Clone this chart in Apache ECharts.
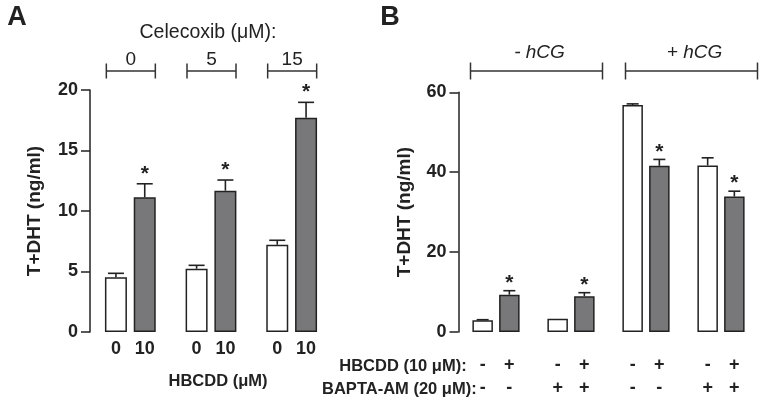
<!DOCTYPE html>
<html><head><meta charset="utf-8">
<script src="https://cdn.jsdelivr.net/npm/echarts@6/dist/echarts.min.js"></script>
<style>html,body{margin:0;padding:0;background:#fff}#c{width:764px;height:406px}</style>
</head><body><div id="c"></div>
<script>
// ---------- Panel A data ----------
const celecoxibLevels = ['0', '5', '15'];
const hbcddLabelsA = ['0', '10'];
const ctrlMeanA = [4.52, 5.23, 7.21];
const ctrlErrA = [0.33, 0.28, 0.37];
const hbcddMeanA = [11.13, 11.68, 17.71];
const hbcddErrA = [1.12, 0.88, 1.27];
const starCtrlA = [0, 0, 0];
const starHbcddA = [1, 1, 1];
const yTicksA = [0, 5, 10, 15, 20];

// ---------- Panel B data ----------
const hcgGroups = ['- hCG', '+ hCG'];
const conditionsB = ['-hCG -BAPTA', '-hCG +BAPTA', '+hCG -BAPTA', '+hCG +BAPTA'];
const baptaSigns = ['-', '+', '-', '+'];
const hbcddSigns = ['-', '+'];
const ctrlMeanB = [2.93, 3.33, 56.8, 41.7];
const ctrlErrB = [0.15, 0, 0.3, 1.9];
const hbcddMeanB = [9.34, 8.94, 41.6, 33.9];
const hbcddErrB = [1.0, 0.9, 1.6, 1.35];
const starCtrlB = [0, 0, 0, 0];
const starHbcddB = [1, 1, 1, 1];
const yTicksB = [0, 20, 40, 60];

const FONT = "'Liberation Sans', Arial, Helvetica, sans-serif";
const INK = '#222';
const GRAY = '#78787a';

const BW_A = 22, GAP_A = 6.8;
const BW_B = 20.5, GAP_B = 6.2;

function errSeries(gi, means, errs, stars, side, bw, gap, starOff, capW) {
  return {
    type: 'custom', xAxisIndex: gi, yAxisIndex: gi, z: 5,
    data: means.map((m, i) => [i, m, errs[i], stars[i]]),
    renderItem(params, api) {
      const c = api.value(0), m = api.value(1), e = api.value(2), s = api.value(3);
      const base = api.coord([c, m]);
      const top = api.coord([c, m + e]);
      const x = base[0] + side * (bw + gap) / 2;
      const children = [];
      if (e > 0) {
        children.push({ type: 'line', shape: { x1: x, y1: base[1], x2: x, y2: top[1] }, style: { stroke: INK, lineWidth: 1.6 } });
        children.push({ type: 'line', shape: { x1: x - capW / 2, y1: top[1], x2: x + capW / 2, y2: top[1] }, style: { stroke: INK, lineWidth: 1.6 } });
      }
      if (s) {
        children.push({ type: 'text', style: { text: '*', x: x, y: top[1] - starOff, align: 'center', verticalAlign: 'middle', textAlign: 'center', textVerticalAlign: 'middle', fontSize: 21, fontWeight: 'bold', fontFamily: FONT, fill: INK } });
      }
      return { type: 'group', children };
    }
  };
}

const yAxisBase = (gi, max, interval, gap) => ({
  gridIndex: gi, type: 'value', min: 0, max: max, interval: interval,
  axisLine: { show: true, lineStyle: { color: INK, width: 1.5 } },
  axisTick: { show: true, length: 9, lineStyle: { color: INK, width: 1.5 } },
  axisLabel: { fontSize: 18, fontWeight: 'bold', color: INK, margin: 12, fontFamily: FONT },
  splitLine: { show: false },
  name: 'T+DHT (ng/ml)', nameLocation: 'middle', nameGap: gap,
  nameTextStyle: { fontSize: 19, fontWeight: 'bold', color: INK, fontFamily: FONT }
});

const xAxisBase = (gi, data) => ({
  gridIndex: gi, type: 'category', data: data,
  axisLine: { show: false }, axisTick: { show: false }, axisLabel: { show: false }
});

const barLabel = (fmt, dist, lh) => ({
  show: true, position: 'bottom', distance: dist, formatter: fmt,
  fontSize: 18, fontWeight: 'bold', color: INK, fontFamily: FONT, lineHeight: lh, align: 'center'
});

const option = {
  animation: false,
  backgroundColor: '#fff',
  grid: [
    { left: 90, top: 90, width: 242, height: 242 },
    { left: 458.5, top: 92.3, width: 300, height: 239.7 }
  ],
  xAxis: [xAxisBase(0, celecoxibLevels), xAxisBase(1, conditionsB)],
  yAxis: [yAxisBase(0, yTicksA[yTicksA.length - 1], yTicksA[1] - yTicksA[0], 46),
          yAxisBase(1, yTicksB[yTicksB.length - 1], yTicksB[1] - yTicksB[0], 44)],
  series: [
    { type: 'bar', xAxisIndex: 0, yAxisIndex: 0, data: ctrlMeanA, barWidth: BW_A, barGap: (GAP_A / BW_A * 100) + '%',
      itemStyle: { color: '#fff', borderColor: INK, borderWidth: 1.5 },
      label: barLabel(() => hbcddLabelsA[0], 7, 20) },
    { type: 'bar', xAxisIndex: 0, yAxisIndex: 0, data: hbcddMeanA, barWidth: BW_A, barGap: (GAP_A / BW_A * 100) + '%',
      itemStyle: { color: GRAY, borderColor: INK, borderWidth: 1.5 },
      label: barLabel(() => hbcddLabelsA[1], 7, 20) },
    { type: 'bar', xAxisIndex: 1, yAxisIndex: 1, data: ctrlMeanB, barWidth: BW_B, barGap: (GAP_B / BW_B * 100) + '%',
      itemStyle: { color: '#fff', borderColor: INK, borderWidth: 1.5 },
      label: barLabel(p => hbcddSigns[0] + '\n' + baptaSigns[p.dataIndex], 22, 23) },
    { type: 'bar', xAxisIndex: 1, yAxisIndex: 1, data: hbcddMeanB, barWidth: BW_B, barGap: (GAP_B / BW_B * 100) + '%',
      itemStyle: { color: GRAY, borderColor: INK, borderWidth: 1.5 },
      label: barLabel(p => hbcddSigns[1] + '\n' + baptaSigns[p.dataIndex], 22, 23) },
    errSeries(0, ctrlMeanA, ctrlErrA, starCtrlA, -1, BW_A, GAP_A, 10, 16),
    errSeries(0, hbcddMeanA, hbcddErrA, starHbcddA, 1, BW_A, GAP_A, 10, 16),
    errSeries(1, ctrlMeanB, ctrlErrB, starCtrlB, -1, BW_B, GAP_B, 7.5, 12),
    errSeries(1, hbcddMeanB, hbcddErrB, starHbcddB, 1, BW_B, GAP_B, 7.5, 12)
  ]
};

const chart = echarts.init(document.getElementById('c'), null, { renderer: 'canvas' });
chart.setOption(option);

function px(gi, cat) { return chart.convertToPixel({ gridIndex: gi }, [cat, 0]); }
function txt(text, x, y, size, weight, align, style) {
  return { type: 'text', x: x, y: y, z: 10,
    style: Object.assign({ text: text, fontSize: size, fontWeight: weight || 'normal', fontFamily: FONT, fill: INK,
      textAlign: align || 'center', align: align || 'center', textVerticalAlign: 'middle', verticalAlign: 'middle' }, style || {}) };
}
function bracket(cx, half, y, h) {
  return [
    { type: 'line', z: 10, shape: { x1: cx - half, y1: y, x2: cx + half, y2: y }, style: { stroke: '#333', lineWidth: 1.5 } },
    { type: 'line', z: 10, shape: { x1: cx - half, y1: y - h, x2: cx - half, y2: y + h }, style: { stroke: '#333', lineWidth: 1.5 } },
    { type: 'line', z: 10, shape: { x1: cx + half, y1: y - h, x2: cx + half, y2: y + h }, style: { stroke: '#333', lineWidth: 1.5 } }
  ];
}

const g = [];
g.push(txt('A', 17, 18, 27, 'bold'));
g.push(txt('B', 390, 18, 27, 'bold'));
const aMid = px(0, 1)[0];
g.push(txt('Celecoxib (\u03bcM):', aMid - 3, 33, 19.5, 'normal'));
celecoxibLevels.forEach((lab, i) => {
  const cx = px(0, i)[0] + 0.5;
  bracket(cx, 24.5, 71, 7.5).forEach(e => g.push(e));
  g.push(txt(lab, cx, 60, 19, 'normal'));
});
g.push(txt('HBCDD (\u03bcM)', aMid + 7, 381, 16.5, 'bold'));

hcgGroups.forEach((lab, k) => {
  const c1 = px(1, 2 * k)[0], c2 = px(1, 2 * k + 1)[0];
  const cx = (c1 + c2) / 2 + (k === 0 ? 3 : 8);
  bracket(cx, 66, 71, 8.5).forEach(e => g.push(e));
  g.push(txt(lab, cx + 3, 53, 19, 'normal', 'center', { fontStyle: 'italic' }));
});
const firstB = px(1, 0)[0] - (BW_B + GAP_B) / 2;
g.push(txt('HBCDD (10 \u03bcM):', firstB - 16, 366, 16.5, 'bold', 'right'));
g.push(txt('BAPTA-AM (20 \u03bcM):', firstB - 6, 389, 16.5, 'bold', 'right'));

chart.setOption({ graphic: { elements: g } });
</script>
</body></html>
